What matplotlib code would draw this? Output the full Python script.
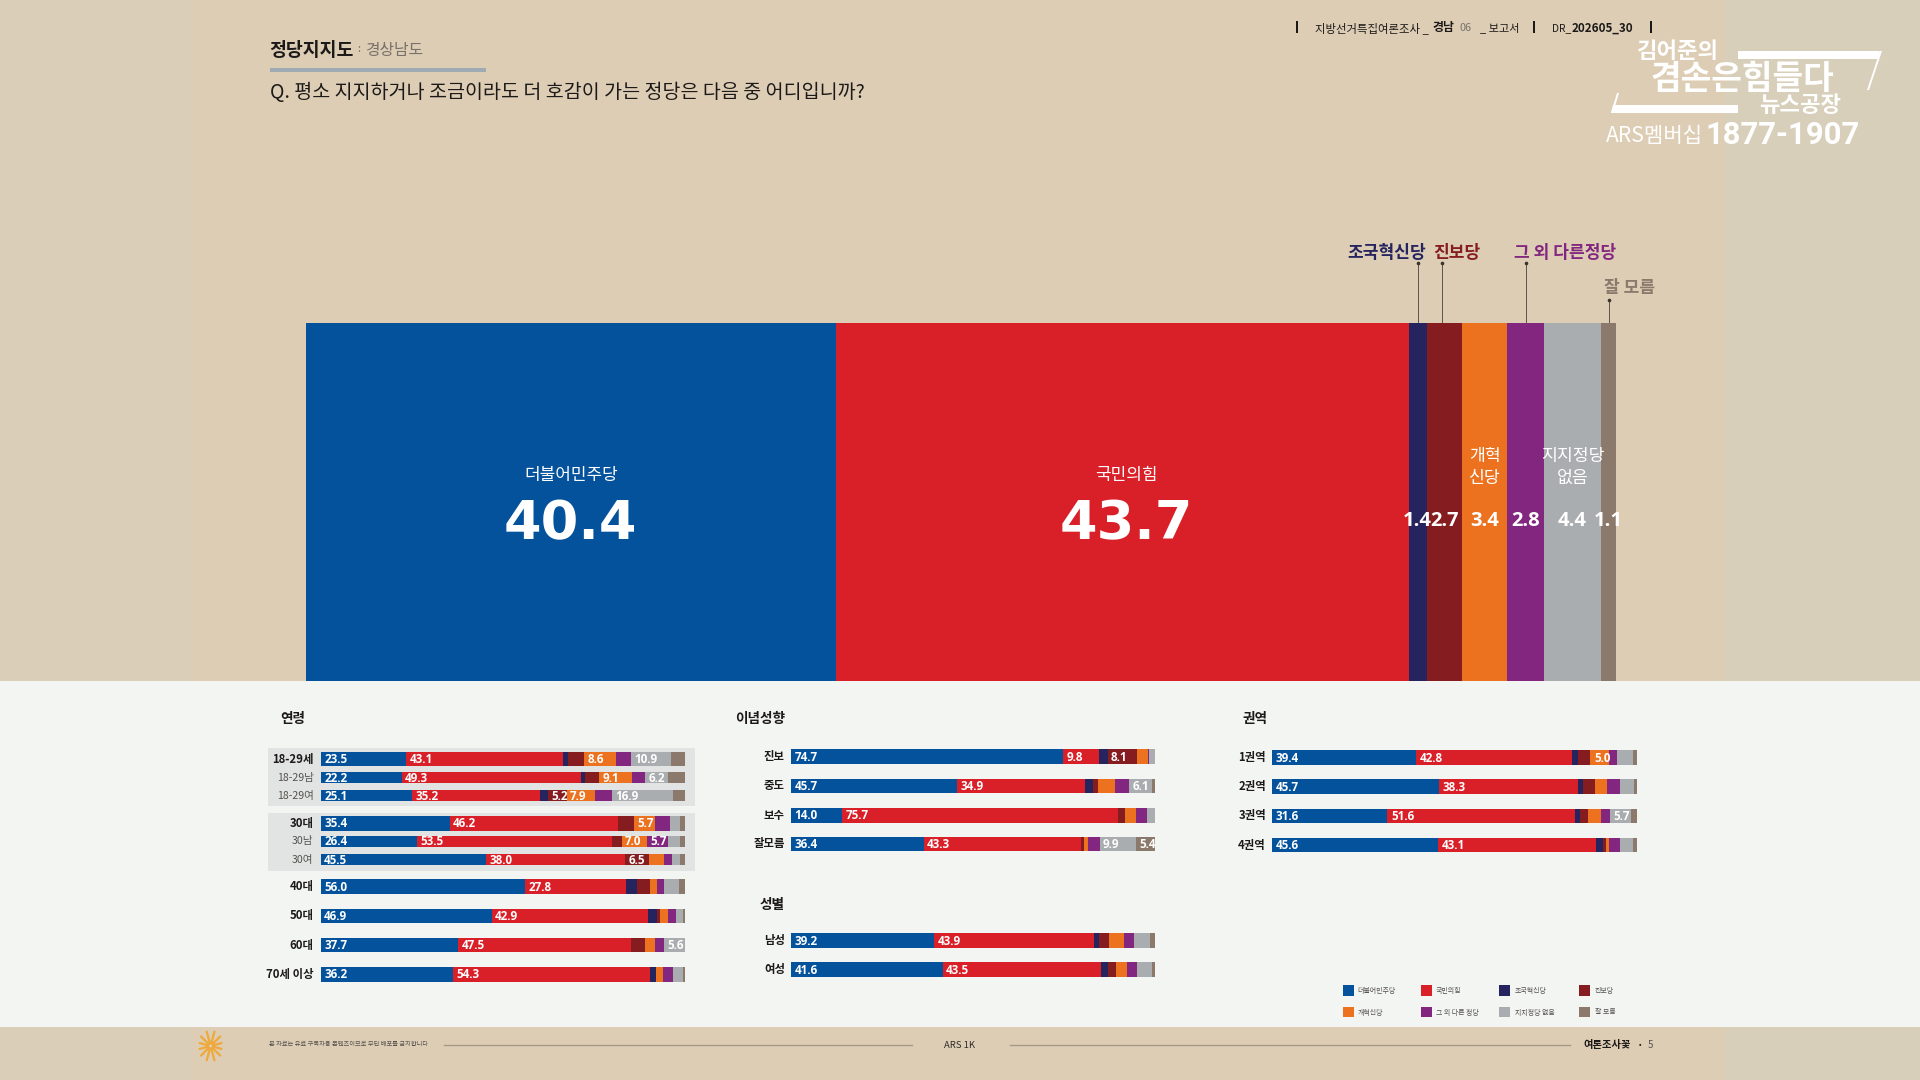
import numpy as np
import matplotlib
matplotlib.use("Agg")
import matplotlib.pyplot as plt
from matplotlib.patches import Rectangle, Polygon

KR = ["Noto Sans CJK KR", "DejaVu Sans"]
NUM = "Open Sans"
plt.rcParams["font.family"] = KR

# ---------- data ----------
parties = ["더불어민주당", "국민의힘", "조국혁신당", "진보당", "개혁신당", "그 외 다른 정당", "지지정당 없음", "잘 모름"]
overall = [40.4, 43.7, 1.4, 2.7, 3.4, 2.8, 4.4, 1.1]

age_labels = ["18-29세", "18-29남", "18-29여", "30대", "30남", "30여", "40대", "50대", "60대", "70세 이상"]
age_values = [
    [23.5, 43.1, 1.4, 4.4, 8.6, 4.2, 10.9, 3.9],
    [22.2, 49.3, 1.1, 3.7, 9.1, 3.7, 6.2, 4.7],
    [25.1, 35.2, 2.0, 5.2, 7.9, 4.5, 16.9, 3.2],
    [35.4, 46.2, 0.0, 4.4, 5.7, 4.2, 2.7, 1.4],
    [26.4, 53.5, 0.0, 2.7, 7.0, 5.7, 3.4, 1.2],
    [45.5, 38.0, 0.0, 6.5, 4.3, 2.1, 2.2, 1.4],
    [56.0, 27.8, 2.9, 3.7, 1.8, 2.0, 4.1, 1.7],
    [46.9, 42.9, 2.4, 0.9, 2.1, 2.3, 1.9, 0.6],
    [37.7, 47.5, 0.0, 3.8, 2.9, 2.4, 5.6, 0.1],
    [36.2, 54.3, 1.5, 0.1, 1.9, 2.7, 2.8, 0.6],
]
ideo_labels = ["진보", "중도", "보수", "잘모름"]
ideo_values = [
    [74.7, 9.8, 2.4, 8.1, 2.9, 0.5, 1.6, 0.0],
    [45.7, 34.9, 2.4, 1.2, 4.8, 3.9, 6.1, 1.0],
    [14.0, 75.7, 0.0, 2.0, 3.1, 2.8, 2.2, 0.2],
    [36.4, 43.3, 0.0, 0.8, 1.0, 3.2, 9.9, 5.4],
]
sex_labels = ["남성", "여성"]
sex_values = [
    [39.2, 43.9, 1.4, 2.9, 4.0, 2.7, 4.4, 1.5],
    [41.6, 43.5, 1.8, 2.3, 3.0, 2.7, 4.2, 0.9],
]
region_labels = ["1권역", "2권역", "3권역", "4권역"]
region_values = [
    [39.4, 42.8, 1.8, 3.3, 5.0, 2.4, 4.2, 1.1],
    [45.7, 38.3, 1.4, 3.2, 3.3, 3.4, 4.0, 0.7],
    [31.6, 51.6, 1.2, 2.2, 3.6, 2.5, 5.7, 1.6],
    [45.6, 43.1, 2.1, 0.9, 0.6, 3.1, 3.6, 1.0],
]

# ---------- style / layout ----------
COLORS = ["#04529C", "#D92028", "#25245E", "#851C20", "#EC7220", "#82267F", "#AAADAF", "#8B7A6C"]
BG = "#DDCDB5"
SIDE_L = "#DACEB8"
SIDE_R = "#D8CFBA"
PANEL = "#F3F5F3"
INK = "#1C1A18"
W, H = 1920, 1080

fig = plt.figure(figsize=(19.2, 10.8), dpi=100, facecolor=BG)
back = fig.add_axes([0, 0, 1, 1], zorder=0)
back.set_xlim(0, W); back.set_ylim(H, 0); back.axis("off")
page = fig.add_axes([0, 0, 1, 1], zorder=3)
page.set_xlim(0, W); page.set_ylim(H, 0); page.axis("off")
page.patch.set_alpha(0)

def T(x, y, s, size, color=INK, weight="normal", ha="left", family=KR, **kw):
    return page.text(x, y + 1.5, s, fontsize=size, color=color, fontweight=weight, ha=ha, va="center",
                     family=family, **kw)

def R(x0, y0, x1, y1, color, z=1):
    back.add_patch(Rectangle((x0, y0), x1 - x0, y1 - y0, fc=color, ec="none", zorder=z))

R(0, 0, 190, 681, SIDE_L)
R(1725, 0, W, 681, SIDE_R)
R(0, 1027, 190, H, SIDE_L)
R(1725, 1027, W, H, SIDE_R)
R(0, 681, W, 1027, PANEL)
R(268, 748, 695, 806, "#E2E4E3", 2)
R(268, 813, 695, 871, "#E2E4E3", 2)

# header
T(269.5, 49, "정당지지도", 13.2, weight="bold")
T(357, 48, ":", 8, color="#77716A")
T(365, 49, "경상남도", 11.4, color="#77716A", weight="light")
R(269.5, 67.5, 485.5, 71.5, "#9FABB2")
T(270, 90.5, "Q. 평소 지지하거나 조금이라도 더 호감이 가는 정당은 다음 중 어디입니까?", 14.05, weight="medium")

for xb in (1297, 1534, 1651):
    R(xb - 1.2, 21, xb + 1.2, 33, INK)
T(1315, 26.5, "지방선거특집여론조사 _", 8.2)
T(1432, 26.5, "경남", 8.6, weight="bold")
T(1459, 26.5, "06", 7.8, color="#77716A", weight="light")
T(1480, 26.5, "_ 보고서", 8)
T(1552, 26.5, "DR_", 7.4)
T(1572, 26.5, "202605_30", 8.4, weight="bold")

# logo
WH = "#FFFFFF"
page.add_patch(Polygon([(1738, 51), (1880, 51), (1878, 59), (1738, 59)], fc=WH, ec="none"))
page.add_patch(Polygon([(1880, 51), (1882, 51), (1869, 90), (1867, 90)], fc=WH, ec="none"))
page.add_patch(Polygon([(1613, 105), (1738, 105), (1738, 113), (1611, 113)], fc=WH, ec="none"))
page.add_patch(Polygon([(1617, 93), (1619, 93), (1613, 113), (1611, 113)], fc=WH, ec="none"))
T(1678, 49.5, "김어준의", 16, color=WH, weight="bold", ha="center")
T(1742, 77.5, "겸손은힘들다", 24, color=WH, weight="black", ha="center")
T(1800, 104.5, "뉴스공장", 16, color=WH, weight="bold", ha="center")
T(1606, 135, "ARS멤버십", 15.2, color=WH, weight="normal")
T(1705, 133.5, "1877-1907", 22.3, color=WH, weight="bold", family="Roboto")

# ---------- main stacked bar ----------
MX0, MX1, MY0, MY1 = 306, 1617, 322.5, 681
main = fig.add_axes([MX0 / W, 1 - MY1 / H, (MX1 - MX0) / W, (MY1 - MY0) / H], zorder=1)
main.axis("off")
main.set_xlim(0, 100); main.set_ylim(0, 1)
main.patch.set_alpha(0)
left = 0
centers = []
for v, c in zip(overall, COLORS):
    main.barh(0.5, v, left=left, height=1, color=c, edgecolor="none")
    centers.append(left + v / 2)
    left += v

def X_main(v):
    return MX0 + (MX1 - MX0) * v / 100

big_shift = [0.0, 0.35]
for i in (0, 1):
    cx = X_main(centers[i] + big_shift[i])
    T(cx, 473.5, parties[i], 12.2, color="#FFFFFF", ha="center")
    T(cx, 522.5, f"{overall[i]:.1f}", 39, color="#FFFFFF", weight="bold", ha="center", family="DejaVu Sans")
for i in range(2, 8):
    T(X_main(centers[i]), 519, f"{overall[i]:.1f}", 14.5, color="#FFFFFF", weight="bold", ha="center", family=NUM)
tx = X_main(centers[4])
T(tx, 454.5, "개혁", 12.4, color="#FFFFFF", ha="center")
T(tx, 476, "신당", 12.4, color="#FFFFFF", ha="center")
tx = X_main(centers[6])
T(tx, 454.5, "지지정당", 12.4, color="#FFFFFF", ha="center")
T(tx, 476, "없음", 12.4, color="#FFFFFF", ha="center")

callouts = [(2, 1387, 251.5, 263), (3, 1457, 251.5, 263), (5, 1565, 251.5, 263), (7, 1630, 286.5, 300)]
names = {2: "조국혁신당", 3: "진보당", 5: "그 외 다른정당", 7: "잘 모름"}
ccol = {2: "#25245E", 3: "#851C20", 5: "#82267F", 7: "#8B7A6C"}
for i, lx, ly, ytop in callouts:
    T(lx, ly, names[i], 12.3, color=ccol[i], weight="bold", ha="center")
    x = {2: 1418, 3: 1442, 5: 1526, 7: 1609}[i]
    page.plot([x, x], [ytop, 322], color="#5A544C", lw=0.7, zorder=3)
    page.plot([x], [ytop], marker="o", ms=1.6, color="#3A342C", zorder=3)

# ---------- small panels ----------
def panel(x0, x1, ys, heights, labels, values, label_x, sub=()):
    ax = fig.add_axes([x0 / W, 0, (x1 - x0) / W, 1], zorder=1)
    ax.set_xlim(0, 100); ax.set_ylim(H, 0)
    ax.axis("off"); ax.patch.set_alpha(0)
    for y, h, lab, row in zip(ys, heights, labels, values):
        left = 0
        for v, c in zip(row, COLORS):
            if v > 0:
                ax.barh(y, v, left=left, height=h, color=c, edgecolor="none")
            if v >= 5.0:
                ax.annotate(f"{v:.1f}", (left, y + 0.5), xytext=(2.5, 0), textcoords="offset points",
                            fontsize=8.4, color="#FFFFFF", fontweight="bold", ha="left", va="center",
                            family=NUM, annotation_clip=False)
            left += v
        if lab in sub:
            T(label_x, y - 1.5, lab, 7.6, color="#55524E", ha="right", weight="light")
        else:
            T(label_x, y - 1.5, lab, 8.2, color=INK, ha="right", weight="bold")

age_y = [759, 777.7, 795.7, 823.3, 841.3, 859.7, 886.7, 916, 945, 974.3]
age_h = [14.7, 11.3, 11.3, 14.7, 11.3, 11.3, 14.7, 14.7, 14.7, 14.7]
panel(320.7, 685, age_y, age_h, age_labels, age_values, 313.5, sub=("18-29남", "18-29여", "30남", "30여"))
panel(791, 1155.3, [756.7, 786, 815.3, 844], [14.7] * 4, ideo_labels, ideo_values, 785)
panel(791, 1155.3, [940.7, 969.7], [14.7] * 2, sex_labels, sex_values, 785)
panel(1272.3, 1636.7, [757.7, 786.7, 816, 845], [14.7] * 4, region_labels, region_values, 1266)

T(293, 718, "연령", 9.8, weight="bold", ha="center")
T(760, 718, "이념성향", 9.8, weight="bold", ha="center")
T(772, 903.5, "성별", 9.8, weight="bold", ha="center")
T(1255, 718, "권역", 9.8, weight="bold", ha="center")

# legend
leg_sx = [1342.7, 1421.3, 1499.3, 1579.3]
leg_tx = [1357.7, 1436, 1515, 1594.7]
for i, p in enumerate(parties):
    col = i % 4
    top = 985 if i < 4 else 1006.5
    R(leg_sx[col], top, leg_sx[col] + 11, top + 10.8, COLORS[i], 2)
    T(leg_tx[col], top + 4.5, p, 5, color="#55524E")

# footer
page.plot([444, 912], [1045, 1045], color="#A59A88", lw=1)
page.plot([1010, 1570], [1045, 1045], color="#A59A88", lw=1)
T(269, 1042.5, "본 자료는 유료 구독자용 콘텐츠이므로 무단 배포를 금지합니다", 4.5, color="#55524E")
T(960, 1044.5, "ARS 1K", 6.8, ha="center", color="#2C2A26", weight="medium")
T(1583, 1043.5, "여론조사꽃", 7.4, weight="bold")
T(1637, 1043.5, "·", 8, weight="bold")
T(1648, 1043.5, "5", 7, color="#55524E")
ray_angles = np.deg2rad(np.arange(0, 360, 30) + 15)
ray_long = np.abs(np.sin(ray_angles)) * 5 + 10
for a, r in zip(ray_angles, ray_long):
    page.plot([210.6 + 2.5 * np.cos(a), 210.6 + r * np.cos(a)],
              [1046 + 2.5 * np.sin(a), 1046 + r * np.sin(a)],
              color="#EFA93A", lw=1.6, solid_capstyle="round")

fig.savefig("out.png", dpi=100, facecolor=BG)
